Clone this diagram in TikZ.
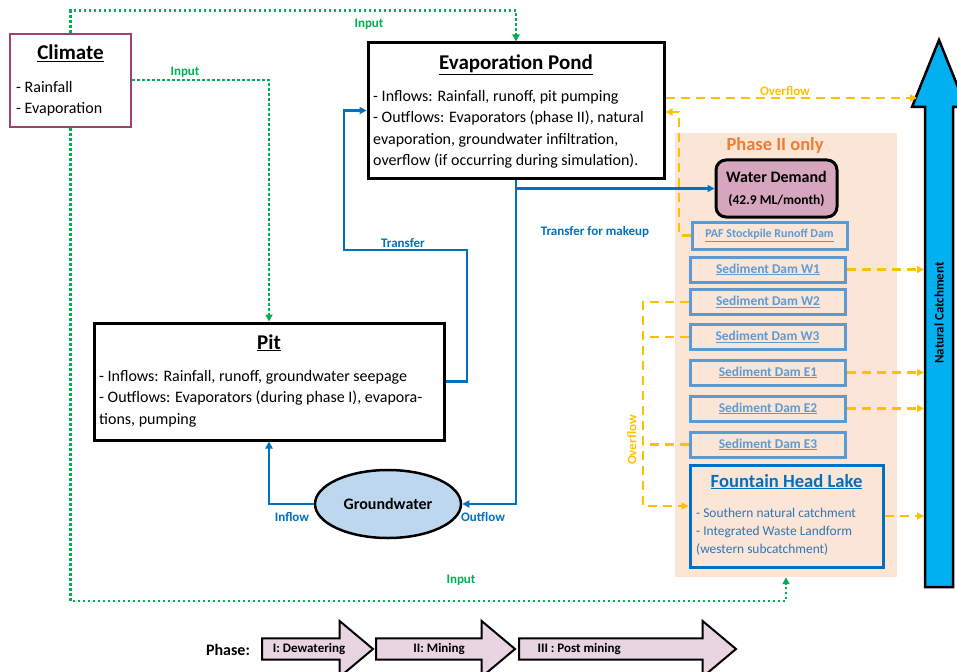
\documentclass[tikz,border=0pt]{standalone}
\usepackage{fontspec}
\setmainfont{Carlito}
\usetikzlibrary{arrows.meta,shapes.geometric,shapes.arrows}
\definecolor{inputgreen}{HTML}{00B050}
\definecolor{flowblue}{HTML}{0070C0}
\definecolor{overorange}{HTML}{FFC000}
\definecolor{damblue}{HTML}{5B9BD5}
\definecolor{lakeblue}{HTML}{2E75B6}
\definecolor{phaseorange}{HTML}{ED7D31}
\definecolor{phasebg}{HTML}{FBE5D6}
\definecolor{climateborder}{HTML}{A0416E}
\definecolor{demandfill}{HTML}{D5A6BD}
\definecolor{gwfill}{HTML}{BDD7EE}
\definecolor{catchblue}{HTML}{00B0F0}
\definecolor{phasefill}{HTML}{E8D5E1}

\tikzset{
  mainbox/.style={draw, line width=3pt, inner sep=0pt},
  boxtitle/.style={anchor=base, inner sep=0pt, font=\fontsize{21}{25}\selectfont\bfseries},
  boxtext/.style={anchor=north west, inner sep=0pt, align=left, font=\fontsize{16}{21.5}\selectfont},
  dambox/.style={draw=damblue, line width=3pt, minimum width=155pt, minimum height=25pt, inner sep=0pt,
    text=damblue, font=\fontsize{13.4}{16}\selectfont\bfseries},
  tip/.style={-{Triangle[length=7pt,width=7pt]}},
  inputline/.style={inputgreen, line width=2.5pt, dash pattern=on 2.5pt off 2.5pt, tip},
  flowline/.style={flowblue, line width=2.5pt},
  overline/.style={overorange, line width=2.5pt, dash pattern=on 9pt off 6pt},
  lbl/.style={inner sep=0pt, font=\fontsize{13}{15}\selectfont\bfseries},
  phasearrow/.style={single arrow, draw, line width=2pt, fill=phasefill, minimum width=56pt,
    single arrow head extend=14pt, single arrow tip angle=80, inner sep=2pt, anchor=tail,
    font=\fontsize{13}{15}\selectfont\bfseries}
}

\begin{document}
\begin{tikzpicture}[x=1pt, y=-1pt]
  \useasboundingbox (0,0) rectangle (957,671);

  % Phase II background
  \node[fill=phasebg, minimum width=222pt, minimum height=444pt, inner sep=0pt] (phasebg) at (786,355) {};
  \node[inner sep=0pt, text=phaseorange, font=\fontsize{18.5}{22}\selectfont\bfseries] (phasetitle) at (775,145) {Phase II only};

  % Climate
  \node[mainbox, draw=climateborder, line width=2.5pt, minimum width=121pt, minimum height=93pt] (climate) at (70.5,80.5) {};
  \node[boxtitle] (climatetitle) at (70.5,60) {\underline{Climate}};
  \node[boxtext] (climatetext) at (16,81) {- Rainfall\\- Evaporation};

  % Evaporation pond
  \node[mainbox, minimum width=296pt, minimum height=135pt] (evap) at (516,110.5) {};
  \node[boxtitle] (evaptitle) at (516,70) {\underline{Evaporation Pond}};
  \node[boxtext] (evaptext) at (373,90) {- Inflows: Rainfall, runoff, pit pumping\\
    - Outflows: Evaporators (phase II), natural\\
    evaporation, groundwater infiltration,\\
    overflow (if occurring during simulation).};

  % Pit
  \node[mainbox, minimum width=350pt, minimum height=117pt] (pit) at (269,381.5) {};
  \node[boxtitle] (pittitle) at (269,349) {\underline{Pit}};
  \node[boxtext] (pittext) at (99,370) {- Inflows: Rainfall, runoff, groundwater seepage\\
    - Outflows: Evaporators (during phase I), evapora-\\
    tions, pumping};

  % Groundwater
  \node[ellipse, draw, line width=2.5pt, fill=gwfill, minimum width=146pt, minimum height=68pt,
    font=\fontsize{16}{19}\selectfont\bfseries] (gw) at (388,504) {Groundwater};

  % Water demand
  \node[draw, line width=3pt, rounded corners=10pt, fill=demandfill, minimum width=121pt, minimum height=57pt,
    align=center, inner sep=0pt, font=\fontsize{16}{22}\selectfont\bfseries] (demand) at (776.5,188.5)
    {Water Demand\\{\fontsize{13.5}{22}\selectfont (42.9 ML/month)}};

  % Dams
  \node[dambox, font=\fontsize{12}{14}\selectfont\bfseries, minimum height=27pt] (paf) at (769.5,235.5) {\underline{PAF Stockpile Runoff Dam}};
  \node[dambox] (w1) at (768,269.5) {\underline{Sediment Dam W1}};
  \node[dambox] (w2) at (768,302) {\underline{Sediment Dam W2}};
  \node[dambox] (w3) at (767.5,337) {\underline{Sediment Dam W3}};
  \node[dambox] (e1) at (768,372.5) {\underline{Sediment Dam E1}};
  \node[dambox] (e2) at (768,408.5) {\underline{Sediment Dam E2}};
  \node[dambox] (e3) at (768,444.5) {\underline{Sediment Dam E3}};

  % Fountain Head Lake
  \node[draw=flowblue, line width=3pt, minimum width=193pt, minimum height=102pt, inner sep=0pt] (fhl) at (786.5,516) {};
  \node[boxtitle, text=flowblue, font=\fontsize{18.6}{22}\selectfont\bfseries] (fhltitle) at (786.5,487) {\underline{Fountain Head Lake}};
  \node[boxtext, text=lakeblue, font=\fontsize{13.4}{18}\selectfont] (fhltext) at (696,508) {- Southern natural catchment\\
    - Integrated Waste Landform\\
    (western subcatchment)};

  % Natural catchment arrow
  \draw[line width=2.5pt, fill=catchblue, line join=miter] (925,587) -- (925,107) -- (912,107) -- (939,40)
    -- (966,107) -- (953,107) -- (953,587) -- cycle;
  \node[rotate=90, inner sep=0pt, font=\fontsize{13}{15}\selectfont\bfseries] (ncl) at (939,313) {Natural Catchment};
  \coordinate (nchead) at (917,98);
  \coordinate (ncshaft) at (924,300);

  % Inputs
  \draw[inputline] (climate.north) -- ++(0,-22) -| (evap.north);
  \draw[inputline] (climate.east |- 0,80) -| (pit.north);
  \coordinate (inbot) at (786,601);
  \draw[inputline] (climate.south) |- (inbot) -- (inbot |- phasebg.south);
  \node[lbl, text=inputgreen] (in1) at (369,24) {Input};
  \node[lbl, text=inputgreen] (in2) at (185,72) {Input};
  \node[lbl, text=inputgreen] (in3) at (461,580) {Input};

  % Transfers
  \draw[flowline, tip] (pit.east) -| (467,250) -| (344,110.5) -- (evap.west);
  \coordinate (split) at (evap.south |- demand.west);
  \draw[flowline, tip] (evap.south) |- (demand.west);
  \draw[flowline, tip] (split) |- (gw.east);
  \draw[flowline, tip] (gw.west) -| (pit.south);
  \node[lbl, text=flowblue] (transfer) at (403,243) {Transfer};
  \node[lbl, text=flowblue] (makeup) at (595,232) {Transfer for makeup};
  \node[lbl, text=flowblue] (inflow) at (292,517) {Inflow};
  \node[lbl, text=flowblue] (outflow) at (483,517) {Outflow};

  % Overflows
  \draw[overline, tip] (evap.east |- nchead) -- (nchead);
  \coordinate (ovin) at (679,112);
  \draw[overline, tip] (paf.west) -| (ovin) -- (ovin -| evap.east);
  \draw[overline, tip] (w1.east) -- (w1.east -| ncshaft);
  \draw[overline, tip] (e1.east) -- (e1.east -| ncshaft);
  \draw[overline, tip] (e2.east) -- (e2.east -| ncshaft);
  \draw[overline, tip] (fhl.east) -- (fhl.east -| ncshaft);
  \coordinate (ovcol) at (643,506);
  \draw[overline, tip] (w2.west) -| (ovcol) -- (ovcol -| fhl.west);
  \draw[overline] (w3.west) -- (w3.west -| ovcol);
  \draw[overline] (e3.west) -- (e3.west -| ovcol);
  \node[lbl, text=overorange] (ovtop) at (785,91) {Overflow};
  \node[lbl, text=overorange, rotate=90] (ovside) at (632,440) {Overflow};

  % Phases
  \node[inner sep=0pt, font=\fontsize{16}{19}\selectfont\bfseries] (phaselbl) at (228,650) {Phase:};
  \node[phasearrow, minimum height=111pt] (ph1) at (261,649) {I: Dewatering\hspace*{4pt}};
  \node[phasearrow, minimum height=139pt] (ph2) at (375,649) {II: Mining};
  \node[phasearrow, minimum height=217pt] (ph3) at (518,649) {III : Post mining\hspace*{84pt}};
\end{tikzpicture}
\end{document}
